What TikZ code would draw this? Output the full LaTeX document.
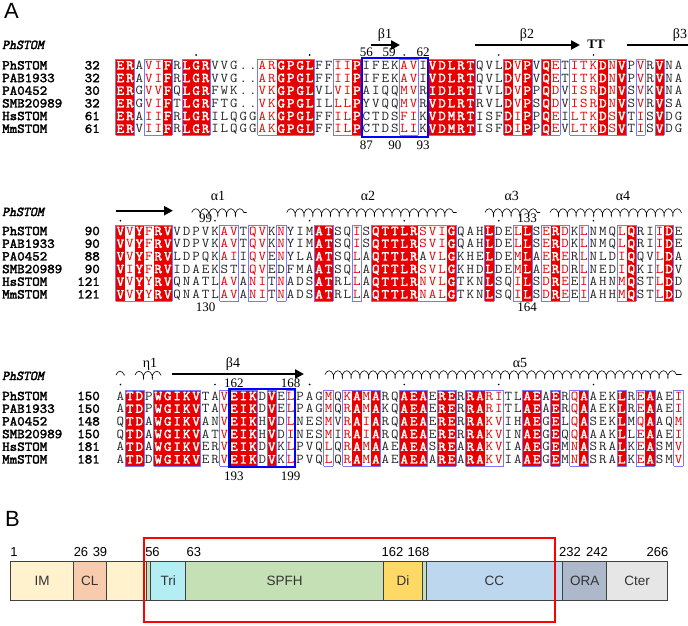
\documentclass[tikz,border=0pt]{standalone}
\usepackage{fontspec}
\usepackage{xstring}
\usetikzlibrary{arrows.meta,decorations.pathmorphing}
\newfontfamily\arialf{Liberation Sans}
\newfontfamily\timesf{Liberation Serif}
\newfontfamily\seqtt[Extension=.otf,FakeStretch=1.08]{lmmono12-regular}
\newfontfamily\seqbf[Extension=.otf,FakeStretch=1.08,FakeBold=2.5]{lmmono12-regular}
\newfontfamily\seqit[Extension=.otf,FakeBold=2.5,FakeSlant=0.2]{lmmono12-regular}

\definecolor{espred}{RGB}{232,0,0}
\definecolor{espframe}{RGB}{120,120,255}
\definecolor{imcol}{RGB}{255,242,204}
\definecolor{clcol}{RGB}{248,203,173}
\definecolor{tricol}{RGB}{178,238,244}
\definecolor{spfhcol}{RGB}{197,224,180}
\definecolor{dicol}{RGB}{255,217,102}
\definecolor{cccol}{RGB}{189,215,238}
\definecolor{oracol}{RGB}{173,185,202}
\definecolor{ctercol}{RGB}{231,230,230}

% alignment grid
\def\xo{115.7}
\def\cw{9.46}
\def\rh{12.67}
% column classes: R = identical (red box), r = similar (red letters), . = other
\def\clsA{RR.rrR.RRR.....rrRRRR..rrR....rr.RRRRR...RrR.Rr.rrrRrR.r.R..}
\def\clsB{RrRrRR.....rr.rr.r...RR..r.RRRRRrrrR...R..rR.rRr.r...rR..rR.}
\def\clsC{.RR.RRRRR..rRRR.R.r...r.rRrR..RRR.RR.RRrr..RR.R.rR...R.rR..r}
% black residues inside similar columns (block/row/column)
\def\blackcells{,2/2/33,2/3/12,2/3/13,2/3/18,}

\tikzset{
  res/.style={anchor=base,inner sep=0pt,text=black!85,
    font=\seqtt\fontsize{13.5}{13.5}\selectfont},
  resr/.style={res,text=espred},
  resR/.style={res,text=white,font=\seqbf\fontsize{13.5}{13.5}\selectfont},
  seqname/.style={anchor=base west,inner sep=0pt,
    font=\seqbf\fontsize{13.5}{13.5}\selectfont},
  seqnum/.style={seqname,anchor=base east},
  seqhead/.style={seqname,font=\seqit\fontsize{13.5}{13.5}\selectfont},
  frame/.style={espframe,line width=0.8pt},
  hlbox/.style={draw=blue,line width=2pt},
  strand/.style={line width=2.4pt,-{Triangle[length=9pt,width=9pt]}},
  helix/.style={line width=0.6pt,decorate,
    decoration={coil,aspect=0.5,segment length=8.8pt,amplitude=3.8pt}},
  sslab/.style={anchor=base,inner sep=0pt,font=\timesf\fontsize{14}{14}\selectfont},
  posnum/.style={anchor=base,inner sep=0pt,font=\timesf\fontsize{13}{13}\selectfont},
  panel/.style={anchor=base west,inner sep=0pt,font=\arialf\fontsize{22}{22}\selectfont},
  dombox/.style={draw=black!75,line width=0.9pt},
  domlab/.style={inner sep=0pt,text=black!80,font=\arialf\fontsize{13.5}{13.5}\selectfont},
  domnum/.style={anchor=base,inner sep=0pt,font=\arialf\fontsize{13}{13}\selectfont}
}

% red columns and blue frames of one block
\newcommand\colboxes[2]{%
  \foreach \k in {1,...,61}{%
    \pgfmathtruncatemacro\kk{\k+1}%
    \StrChar{.#2.}{\k}[\pcls]\StrChar{.#2.}{\kk}[\cls]%
    \pgfmathsetmacro\xl{\xo+(\k-1)*\cw}%
    \if R\cls \fill[espred] (\xl,#1) rectangle ++(\cw,6*\rh);\fi
    \if .\cls\else \draw[frame] (\xl,#1) -- ++(\cw,0) (\xl,{#1+6*\rh}) -- ++(\cw,0);\fi
    \if .\pcls \if .\cls\else \draw[frame] (\xl,#1) -- ++(0,6*\rh);\fi
    \else \if .\cls \draw[frame] (\xl,#1) -- ++(0,6*\rh);\fi\fi
  }}

% one sequence line: block, baseline, row, residues, classes
\newcommand\seqrow[5]{%
  \foreach \k in {1,...,60}{%
    \StrChar{#4}{\k}[\res]\StrChar{#5}{\k}[\cls]%
    \pgfmathsetmacro\xc{\xo+(\k-0.5)*\cw}%
    \def\rst{res}%
    \if R\cls \def\rst{resR}\fi
    \if r\cls \IfSubStr{\blackcells}{,#1/#3/\k,}{}{\def\rst{resr}}\fi
    \node[\rst] (s#1-#3-\k) at (\xc,#2) {\res};
  }}

\begin{document}
\begin{tikzpicture}[x=1pt,y=-1pt]
\useasboundingbox (0,0) rectangle (688,626);
\fill[white] (0,0) rectangle (688,626);

\node[panel] (labA) at (4,19) {A};

%% block 1
\node[seqhead] (h1) at (2,49) {PhSTOM};
\colboxes{59.3}{\clsA}
\foreach \nm/\num/\seq [count=\r from 0] in {%
PhSTOM/32/ERAVIFRLGRVVG..ARGPGLFFIIPIFEKAVIVDLRTQVLDVPVQETITKDNVPVRVNA,%
PAB1933/32/ERAVIFRLGRVVG..ARGPGLFFIIPIFEKAVIVDLRTQVLDVPVQETITKDNVPVRVNA,%
PA0452/30/ERGVVFQLGRFWK..VKGPGLVLVIPAIQQMVRIDLRTIVLDVPPQDVISRDNVSVKVNA,%
SMB20989/32/ERGVIFTLGRFTG..VKGPGLILLLPYVQQMVRVDLRTRVLDVPSQDVISRDNVSVRVSA,%
HsSTOM/61/ERAIIFRLGRILQGGAKGPGLFFILPCTDSFIKVDMRTISFDIPPQEILTKDSVTISVDG,%
MmSTOM/61/ERVIIFRLGRILQGGAKGPGLFFILPCTDSLIKVDMRTISFDIPPQEVLTKDSVTISVDG}{
  \pgfmathsetmacro\yb{59.3+(\r+0.5)*\rh+3.8}
  \node[seqname] (n1-\r) at (2,\yb) {\nm};
  \node[seqnum] (c1-\r) at (100,\yb) {\num};
  \seqrow{1}{\yb}{\r}{\seq}{\clsA}
}
\draw[hlbox] ({\xo+26*\cw},58.3) rectangle ({\xo+33*\cw},136.7);
\foreach \c in {8,20,30,40,50}
  \fill ({\xo+(\c+0.5)*\cw},55) circle[radius=0.9pt];
\foreach \c/\t in {26/56,28.4/59,32/62}
  \node[posnum] (u\t) at ({\xo+(\c+0.5)*\cw},56.5) {\t};
\foreach \c/\t in {26/87,29/90,32/93}
  \node[posnum] (d\t) at ({\xo+(\c+0.5)*\cw},149) {\t};
\draw[strand] ({\xo+27*\cw},45) -- (400,45);
\node[sslab] (b1) at (385,39) {β1};
\draw[strand] (475,45) -- (580,45);
\node[sslab] (b2) at (527,39) {β2};
\node[sslab,font=\timesf\bfseries\fontsize{13}{13}\selectfont] (tt) at (596,48.5) {TT};
\draw[line width=2.4pt] (626.7,45) -- (700,45);
\node[sslab] (b3) at (680,39) {β3};

%% block 2
\node[seqhead] (h2) at (2,216) {PhSTOM};
\colboxes{225}{\clsB}
\foreach \nm/\num/\seq [count=\r from 0] in {%
PhSTOM/90/VVYFRVVDPVKAVTQVKNYIMATSQISQTTLRSVIGQAHLDELLSERDKLNMQLQRIIDE,%
PAB1933/90/VVYFRVVDPVKAVTQVKNYIMATSQISQTTLRSVIGQAHLDELLSERDKLNMQLQRIIDE,%
PA0452/88/VVYFRVLDPQKAIIQVENYLAATSQLAQTTLRAVLGKHELDEMLAERERLNLDIQQVLDA,%
SMB20989/90/VIYFRVIDAEKSTIQVEDFMAATSQLAQTTLRSVLGKHDLDEMLAERDRLNEDIQKILDV,%
HsSTOM/121/VVYYRVQNATLAVANITNADSATRLLAQTTLRNVLGTKNLSQILSDREEIAHNMQSTLDD,%
MmSTOM/121/VVYYRVQNATLAVANITNADSATRLLAQTTLRNALGTKNLSQILSDREEIAHHMQSTLDD}{
  \pgfmathsetmacro\yb{225+(\r+0.5)*\rh+3.8}
  \node[seqname] (n2-\r) at (2,\yb) {\nm};
  \node[seqnum] (c2-\r) at (100,\yb) {\num};
  \seqrow{2}{\yb}{\r}{\seq}{\clsB}
}
\foreach \c in {0,10,20,30,40,50}
  \fill ({\xo+(\c+0.5)*\cw},220.7) circle[radius=0.9pt];
\foreach \c/\t in {9/99,43/133}
  \node[posnum] (u\t) at ({\xo+(\c+0.5)*\cw},222.5) {\t};
\foreach \c/\t in {9/130,43/164}
  \node[posnum] (d\t) at ({\xo+(\c+0.5)*\cw},311) {\t};
\draw[strand] (\xo,210.7) -- (173,210.7);
\draw[helix] (191.7,212.5) -- (246.7,212.5);
\draw[helix] (286.7,212.5) -- (456.7,212.5);
\draw[helix] (485,212.5) -- (540,212.5);
\draw[helix] (550,212.5) -- (681.7,212.5);
\node[sslab] (a1) at (218,200.5) {α1};
\node[sslab] (a2) at (368,200.5) {α2};
\node[sslab] (a3) at (511.7,200.5) {α3};
\node[sslab] (a4) at (623,200.5) {α4};

%% block 3
\node[seqhead] (h3) at (2,380) {PhSTOM};
\colboxes{390}{\clsC}
\foreach \nm/\num/\seq [count=\r from 0] in {%
PhSTOM/150/ATDPWGIKVTAVEIKDVELPAGMQKAMARQAEAERERRARITLAEAERQAAEKLREAAEI,%
PAB1933/150/ATDPWGIKVTAVEIKDVELPAGMQRAMAKQAEAERERRARITLAEAERQAAEKLREAAEI,%
PA0452/148/QTDAWGIKVANVEIKHVDLNESMVRAIARQAEAERERRAKVIHAEGELQASEKLMQAAQM,%
SMB20989/150/QTDAWGIKVATVEIKHVDINESMIRAIARQAEAERERRAKVINAEGEQQAAAKLLEAAEI,%
HsSTOM/181/ATDAWGIKVERVEIKDVKLPVQLQRAMAAEAEASREARAKVIAAEGEMNASRALKEASMV,%
MmSTOM/181/ATDDWGIKVERVEIKDVKLPVQLQRAMAAEAEAAREARAKVIAAEGEMNASRALKEASMV}{
  \pgfmathsetmacro\yb{390+(\r+0.5)*\rh+3.8}
  \node[seqname] (n3-\r) at (2,\yb) {\nm};
  \node[seqnum] (c3-\r) at (100,\yb) {\num};
  \seqrow{3}{\yb}{\r}{\seq}{\clsC}
}
\draw[hlbox] ({\xo+12*\cw},389) rectangle ({\xo+19*\cw},467);
\draw[line width=1.3pt] ({\xo+12*\cw+1.6},390) -- ({\xo+12*\cw+1.6},466);
\foreach \c in {0,10,20,30,40,50}
  \fill ({\xo+(\c+0.5)*\cw},384.5) circle[radius=0.9pt];
\foreach \c/\t in {12/162,18/168}
  \node[posnum] (u\t) at ({\xo+(\c+0.5)*\cw},387) {\t};
\foreach \c/\t in {12/193,18/199}
  \node[posnum] (d\t) at ({\xo+(\c+0.5)*\cw},480.5) {\t};
\draw[helix] (116,375) -- (124.8,375);
\draw[helix] (135,375) -- (161.4,375);
\draw[strand] ({\xo+6*\cw},374) -- (304,374);
\draw[helix] (325,374.5) -- (681.7,374.5);
\node[sslab] (e1) at (150,367.5) {η1};
\node[sslab] (b4) at (233,367.5) {β4};
\node[sslab] (a5) at (520,367.5) {α5};

%% panel B: domains
\node[panel] (labB) at (5,526.7) {B};
\foreach \xa/\xb/\cl/\lab/\nm in {10.7/73.3/imcol/IM/im, 73.3/106/clcol/CL/cl,
    106/146.7/imcol//gapa, 146.7/150.7/spfhcol//gapb, 150.7/185.7/tricol/Tri/tri,
    185.7/383.3/spfhcol/SPFH/spfh, 383.3/422.7/dicol/Di/di, 422.7/426/spfhcol//gapc,
    426/562.7/cccol/CC/cc, 562.7/606.7/oracol/ORA/ora, 606.7/667.3/ctercol/Cter/cter}{
  \draw[dombox,fill=\cl] (\xa,561.7) rectangle (\xb,600);
  \node[domlab] (\nm) at ({(\xa+\xb)/2},581) {\lab};
}
\foreach \x/\t in {14/1,81/26,100/39,152.5/56,193.8/63,392.5/162,418.5/168,
    570/232,597/242,657.5/266}
  \node[domnum] (m\t) at (\x,556.5) {\t};
\draw[red,line width=2pt] (144,538.3) rectangle (555,621.7);
\end{tikzpicture}
\end{document}
